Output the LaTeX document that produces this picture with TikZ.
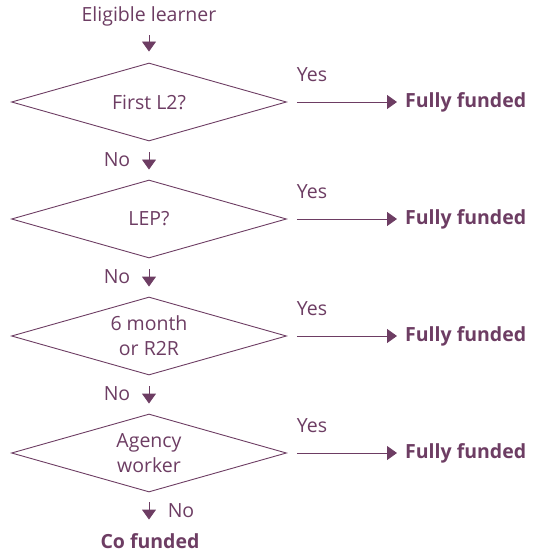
\documentclass[tikz,border=0pt]{standalone}
\usepackage{fontspec}
\setmainfont{Open Sans}
\usetikzlibrary{shapes.geometric,arrows.meta}

\definecolor{plum}{RGB}{109,61,99}

\tikzset{
  txt/.style={text=plum, font=\fontsize{19.5}{25}\selectfont, inner sep=0pt, text height=14pt, text depth=4.5pt},
  result/.style={txt, font=\fontsize{19.5}{25}\selectfont\bfseries, anchor=west},
  decision/.style={diamond, draw=plum, line width=0.9pt, text=plum, font=\fontsize{19.5}{25}\selectfont, align=center,
    aspect=3.5, inner sep=0pt, minimum width=275pt, minimum height=78pt},
  arr/.style={plum, line width=0.9pt, -{Triangle[width=14pt,length=10pt]}}
}

\begin{document}
\begin{tikzpicture}[x=1pt,y=-1pt]
  \useasboundingbox (0,0) rectangle (532,556);

  \node[txt] (start) at (149,17) {Eligible learner};

  \node[decision] (d1) at (149,102) {First L2?};
  \node[decision] (d2) at (149,219) {LEP?};
  \node[decision] (d3) at (149,336) {6 month\\or R2R};
  \node[decision] (d4) at (149,453) {Agency\\worker};

  \node[result] (f1) at (405,103) {Fully funded};
  \node[result] (f2) at (405,220) {Fully funded};
  \node[result] (f3) at (405,337) {Fully funded};
  \node[result] (f4) at (405,454) {Fully funded};

  \node[txt] (yes1) at (312,77) {Yes};
  \node[txt] (yes2) at (312,194) {Yes};
  \node[txt] (yes3) at (312,311) {Yes};
  \node[txt] (yes4) at (312,428) {Yes};

  \node[txt] (no1) at (117,162) {No};
  \node[txt] (no2) at (117,279) {No};
  \node[txt] (no3) at (117,396) {No};
  \node[txt] (no4) at (181,513) {No};

  \node[txt, font=\fontsize{19.5}{25}\selectfont\bfseries] (co) at (150,544) {Co funded};

  \draw[arr, shorten <=9pt, shorten >=11pt] (start.south) -- (d1.north);

  \draw[arr, shorten <=10pt, shorten >=8pt] (d1.east) -- (f1.west |- d1.east);
  \draw[arr, shorten <=10pt, shorten >=8pt] (d2.east) -- (f2.west |- d2.east);
  \draw[arr, shorten <=10pt, shorten >=8pt] (d3.east) -- (f3.west |- d3.east);
  \draw[arr, shorten <=10pt, shorten >=8pt] (d4.east) -- (f4.west |- d4.east);

  \draw[arr, shorten <=11pt, shorten >=10pt] (d1.south) -- (d2.north);
  \draw[arr, shorten <=11pt, shorten >=10pt] (d2.south) -- (d3.north);
  \draw[arr, shorten <=11pt, shorten >=10pt] (d3.south) -- (d4.north);
  \draw[arr, shorten <=10pt, shorten >=15pt] (d4.south) -- (co.north -| d4.south);
\end{tikzpicture}
\end{document}
